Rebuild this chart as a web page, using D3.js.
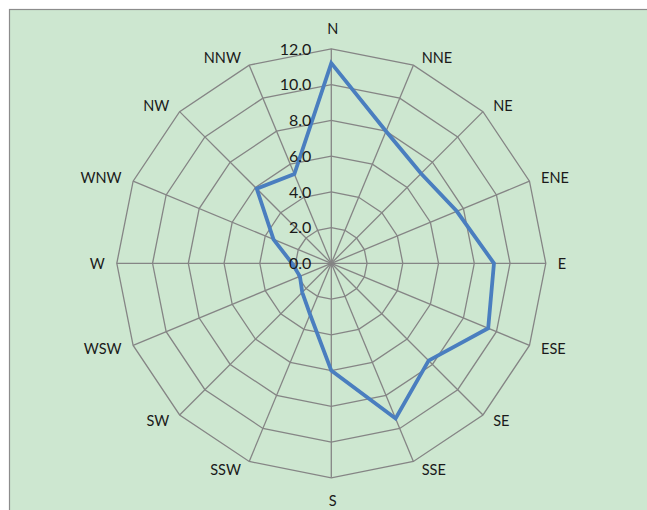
<!DOCTYPE html>
<html>
<head>
<meta charset="utf-8">
<script src="https://cdn.jsdelivr.net/npm/d3@7"></script>
<style>
  html, body { margin: 0; padding: 0; background: #ffffff; }
  svg { display: block; }
  text { font-family: Lato, "Open Sans", "Liberation Sans", sans-serif; fill: #1a1a1a; }
</style>
</head>
<body>
<svg id="chart" width="647" height="510"></svg>
<script>
// ---- data ----
const directions = ["N","NNE","NE","ENE","E","ESE","SE","SSE","S","SSW","SW","WSW","W","WNW","NW","NNW"];
const values     = [11.2, 8.0, 7.1, 7.6, 9.1, 9.5, 7.7, 9.4, 6.0, 3.1, 2.3, 1.9, 2.2, 3.5, 5.9, 5.4];
const tickValues = [0, 2, 4, 6, 8, 10, 12];
const axisMax = 12;

// ---- layout ----
const W = 647, H = 510;
const cx = 331.3, cy = 263.3, R = 214.5;
const svg = d3.select("#chart");

// frame / plot background
svg.append("rect")
  .attr("x", 9.5).attr("y", 9.5)
  .attr("width", W + 20).attr("height", H + 20)
  .attr("fill", "#cde7d0")
  .attr("stroke", "#8c8c8c").attr("stroke-width", 1.2);

const r = d3.scaleLinear().domain([0, axisMax]).range([0, R]);
const angle = d3.scalePoint().domain(directions).range([0, 2 * Math.PI * (directions.length - 1) / directions.length]);

const g = svg.append("g").attr("transform", `translate(${cx},${cy})`);
const px = (d, v) => r(v) * Math.sin(angle(d));
const py = (d, v) => -r(v) * Math.cos(angle(d));

// rings (polygons)
const ringLine = d3.line().curve(d3.curveLinearClosed);
tickValues.filter(t => t > 0).forEach(t => {
  g.append("path")
    .attr("d", ringLine(directions.map(d => [px(d, t), py(d, t)])))
    .attr("fill", "none").attr("stroke", "#858585").attr("stroke-width", 1.3);
});

// spokes
g.selectAll("line.spoke").data(directions).enter().append("line")
  .attr("class", "spoke")
  .attr("x1", 0).attr("y1", 0)
  .attr("x2", d => px(d, axisMax)).attr("y2", d => py(d, axisMax))
  .attr("stroke", "#858585").attr("stroke-width", 1.3);

// data polygon
g.append("path")
  .attr("d", ringLine(directions.map((d, i) => [px(d, values[i]), py(d, values[i])])))
  .attr("fill", "none").attr("stroke", "#4a7ebf").attr("stroke-width", 3.8)
  .attr("stroke-linejoin", "miter");

// tick labels
g.selectAll("text.tick").data(tickValues).enter().append("text")
  .attr("class", "tick")
  .attr("x", -20).attr("y", d => -r(d))
  .attr("dy", "0.36em")
  .attr("text-anchor", "end")
  .style("font-size", "16px")
  .text(d => d3.format(".1f")(d));

// direction labels
g.selectAll("text.dir").data(directions).enter().append("text")
  .attr("class", "dir")
  .each(function(d) {
    const a = angle(d), s = Math.sin(a), c = Math.cos(a);
    const ex = R * s, ey = -R * c;
    let anchor, x, y;
    if (Math.abs(s) < 0.01) {
      anchor = "middle"; x = ex + 1.5; y = ey + (c > 0 ? -20 : 23);
    } else {
      anchor = s > 0 ? "start" : "end";
      x = ex + Math.sign(s) * (6 + 6 * Math.abs(s));
      y = ey - c * 8.5;
    }
    d3.select(this).attr("x", x).attr("y", y).attr("text-anchor", anchor);
  })
  .attr("dy", "0.36em")
  .style("font-size", "14.5px")
  .text(d => d);
</script>
</body>
</html>
